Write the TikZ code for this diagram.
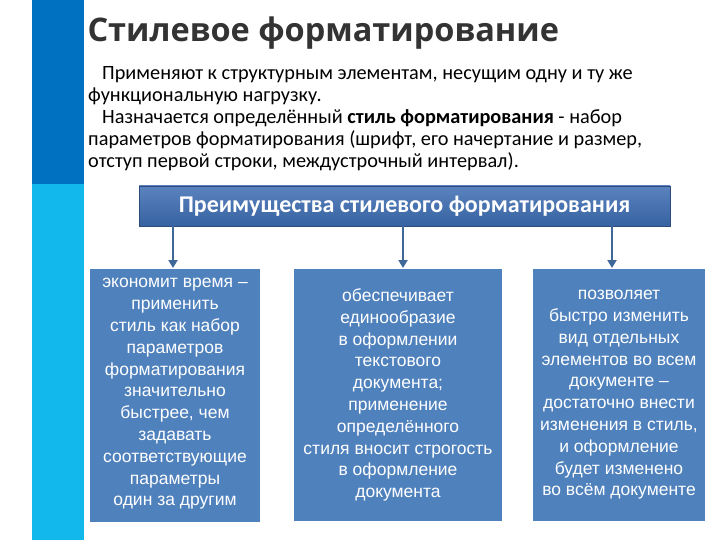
\documentclass[tikz,border=0pt]{standalone}
\usepackage{fontspec}
\usetikzlibrary{arrows.meta}
\setmainfont{Carlito}
\newfontfamily\boxfont{Liberation Sans}
\newfontfamily\titlefont{Open Sans}
\definecolor{dblue}{HTML}{0070C0}
\definecolor{cblue}{HTML}{12B7EC}
\definecolor{hblue}{HTML}{3D6DB3}
\definecolor{bblue}{HTML}{4F81BD}
\definecolor{tgray}{HTML}{333333}
\begin{document}
\begin{tikzpicture}[x=1pt,y=-1pt,
  card/.style={fill=bblue,text=white,font=\boxfont\fontsize{17.5}{21.8}\selectfont,align=center,inner sep=0pt},
  arr/.style={draw=bblue!80!black,line width=2pt,-{Triangle[length=8pt,width=9pt]}}]
\useasboundingbox (0,0) rectangle (720,540);
\fill[white] (0,0) rectangle (720,540);
\fill[dblue] (32,0) rectangle (84,184);
\fill[cblue] (32,184) rectangle (84,540);
\node[anchor=west,text=tgray,font=\titlefont\bfseries\fontsize{32.5}{36}\selectfont] (title) at (84,33) {Стилевое форматирование};
\node[anchor=north west,text=black,font=\fontsize{20.3}{22}\selectfont,align=left,inner sep=0pt] (para) at (88,66)
{\hspace*{14pt}Применяют к структурным элементам, несущим одну и ту же\\
функциональную нагрузку.\\
\hspace*{14pt}Назначается определённый \textbf{стиль форматирования} - набор\\
параметров форматирования (шрифт, его начертание и размер,\\
отступ первой строки, междустрочный интервал).};
\shade[top color=hblue!85!white,bottom color=hblue!90!black,draw=hblue!70!black] (139,186) rectangle (670,226);
\node[text=white,font=\bfseries\fontsize{24}{26}\selectfont] (head) at (404.5,206) {Преимущества стилевого форматирования};
\fill[card] (90,269) rectangle (260,522);
\fill[card] (294,269) rectangle (502,521);
\fill[card] (533,269) rectangle (705,521);
\node[card,fill=none] (b1) at (175,394) {экономит время –\\применить\\стиль как набор\\параметров\\форматирования\\значительно\\быстрее, чем\\задавать\\соответствующие\\параметры\\один за другим};
\node[card,fill=none] (b2) at (398,395) {обеспечивает\\единообразие\\в оформлении\\текстового\\документа;\\применение\\определённого\\стиля вносит строгость\\в оформление\\документа};
\node[card,fill=none] (b3) at (619,395) {позволяет\\быстро изменить\\вид отдельных\\элементов во всем\\документе –\\достаточно внести\\изменения в стиль,\\и оформление\\будет изменено\\во всём документе};
\coordinate (s1) at (173,226); \coordinate (e1) at (173,268);
\coordinate (s2) at (403,226); \coordinate (e2) at (403,268);
\coordinate (s3) at (612,226); \coordinate (e3) at (612,268);
\draw[arr] (s1) -- (e1);
\draw[arr] (s2) -- (e2);
\draw[arr] (s3) -- (e3);
\end{tikzpicture}
\end{document}
